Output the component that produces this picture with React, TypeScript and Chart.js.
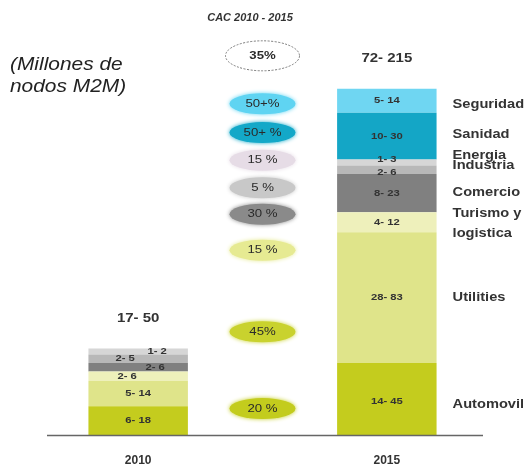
import React, { useEffect, useRef } from "react";
import { Chart, registerables } from "chart.js";

Chart.register(...registerables);

// ---------- data ----------
const years = ["2010", "", "2015"];
const segmentNames = [
  "Automovil",
  "Utilities",
  "Turismo y logistica",
  "Comercio",
  "Industria",
  "Energia",
  "Sanidad",
  "Seguridad",
];
// segment sizes (millones de nodos, approx. mid-range)
const automovil = [12, null, 30];
const utilities = [10.5, null, 54.5];
const turismo = [4, null, 8.3];
const comercio = [3.5, null, 16];
const industria = [3.5, null, 3.5];
const energia = [2.5, null, 2.5];
const sanidad = [null, null, 19.5];
const seguridad = [null, null, 10];

const ranges2010 = ["6- 18", "5- 14", "2- 6", "2- 6", "2- 5", "1- 2", "", ""];
const ranges2015 = ["14- 45", "28- 83", "4- 12", "8- 23", "2- 6", "1- 3", "10- 30", "5- 14"];
const totals = ["17- 50", "", "72- 215"];
const sideLabels = [
  ["Automovil"],
  ["Utilities"],
  ["Turismo y", "logistica"],
  ["Comercio"],
  ["Industria"],
  ["Energia"],
  ["Sanidad"],
  ["Seguridad"],
];
const cagrText = ["20 %", "45%", "15 %", "30 %", "5 %", "15 %", "50+ %", "50+%", "35%"];
const cagrLevel = [11, 43, 77, 92, 103, 114.5, 126, 138, 158];

// ---------- styles ----------
const segColors = [
  "#c4cc1e",
  "#dfe48a",
  "#eef0bb",
  "#808080",
  "#b8b8b8",
  "#d6d6d6",
  "#14a6c6",
  "#6fd6f2",
];
const cagrColors = [
  "#c3cc1d",
  "#c9d22e",
  "#e6ea92",
  "#8a8a8a",
  "#c8c8c8",
  "#e6dce6",
  "#13a8c8",
  "#5fd4f2",
  "#ffffff",
];
const FONT = "Arial, 'Liberation Sans', sans-serif";
const TXT = "#333333";

// label tweaks (pixel offsets)
const off2010x = [0, 0, -11, 17, -13, 19, 0, 0];
const off2015y = [3, 0, 0, 0, 2.5, -3, 0, 0];
const sideOffY = [6, 0, 0, 0, -4, -7, -1, 4];

function txt(
  ctx: CanvasRenderingContext2D,
  s: string,
  x: number,
  y: number,
  font: string,
  color: string,
  align: CanvasTextAlign = "center",
  sx = 1
) {
  ctx.save();
  ctx.font = font;
  ctx.fillStyle = color;
  ctx.textBaseline = "middle";
  ctx.textAlign = align;
  ctx.translate(x, y);
  ctx.scale(sx, 1);
  ctx.fillText(s, 0, 0);
  ctx.restore();
}

const annotPlugin = {
  id: "annot",
  afterDraw(chart: any) {
    const ctx: CanvasRenderingContext2D = chart.ctx;
    const xs = chart.scales.x;
    const ys = chart.scales.y;
    const area = chart.chartArea;

    // baseline
    ctx.save();
    ctx.strokeStyle = "#666";
    ctx.lineWidth = 1.5;
    ctx.beginPath();
    ctx.moveTo(area.left - 29, area.bottom + 0.5);
    ctx.lineTo(area.right + 34, area.bottom + 0.5);
    ctx.stroke();
    ctx.restore();

    // title + unit note
    txt(ctx, "CAC 2010 - 2015", 250, 18, `italic bold 11px ${FONT}`, TXT);
    txt(ctx, "(Millones de", 10, 65, `italic 19px ${FONT}`, "#222", "left", 1.1);
    txt(ctx, "nodos M2M)", 10, 87, `italic 19px ${FONT}`, "#222", "left", 1.1);

    const n = chart.data.datasets.length;
    // segment labels
    for (let d = 0; d < n; d++) {
      const meta = chart.getDatasetMeta(d);
      [0, 2].forEach((i) => {
        const v = chart.data.datasets[d].data[i];
        if (v == null) return;
        const el: any = meta.data[i];
        const cy = (el.y + el.base) / 2;
        if (i === 0) {
          const s = ranges2010[d];
          if (s) txt(ctx, s, el.x + off2010x[d], cy, `bold 9px ${FONT}`, TXT, "center", 1.25);
        } else {
          txt(ctx, ranges2015[d], el.x, cy + off2015y[d], `bold 9px ${FONT}`, TXT, "center", 1.25);
          const lines = sideLabels[d];
          const lx = el.x + el.width / 2 + 16;
          if (lines.length === 1) {
            txt(ctx, lines[0], lx, cy + sideOffY[d], `bold 12px ${FONT}`, TXT, "left", 1.22);
          } else {
            txt(ctx, lines[0], lx, cy - 9, `bold 12px ${FONT}`, TXT, "left", 1.22);
            txt(ctx, lines[1], lx, cy + 11, `bold 12px ${FONT}`, TXT, "left", 1.22);
          }
        }
      });
    }

    // totals above bars
    [0, 2].forEach((i) => {
      let top = Infinity;
      let x = 0;
      for (let d = 0; d < n; d++) {
        if (chart.data.datasets[d].data[i] == null) continue;
        const el: any = chart.getDatasetMeta(d).data[i];
        top = Math.min(top, el.y);
        x = el.x;
      }
      txt(ctx, totals[i], x, top - 30, `bold 12px ${FONT}`, TXT, "center", 1.25);
    });

    // CAC ellipses
    const cx = xs.getPixelForValue(1);
    cagrText.forEach((t, k) => {
      const cy = ys.getPixelForValue(cagrLevel[k]);
      const big = k === cagrText.length - 1;
      const rx = big ? 37 : 33;
      const ry = big ? 15 : 10.5;
      ctx.save();
      ctx.beginPath();
      ctx.ellipse(cx, cy, rx, ry, 0, 0, Math.PI * 2);
      if (big) {
        ctx.fillStyle = "#fff";
        ctx.fill();
        ctx.setLineDash([2, 1.5]);
        ctx.strokeStyle = "#777";
        ctx.lineWidth = 1;
        ctx.stroke();
      } else {
        ctx.shadowColor = cagrColors[k];
        ctx.shadowBlur = 4;
        ctx.fillStyle = cagrColors[k];
        ctx.fill();
      }
      ctx.restore();
      txt(ctx, t, cx, cy, `${big ? "bold " : ""}11px ${FONT}`, "#2a2a2a", "center", 1.2);
    });
  },
};

export default function App() {
  const ref = useRef<HTMLCanvasElement>(null);
  useEffect(() => {
    if (!ref.current) return;
    const series = [automovil, utilities, turismo, comercio, industria, energia, sanidad, seguridad];
    const chart = new Chart(ref.current, {
      type: "bar",
      data: {
        labels: years,
        datasets: series.map((data, d) => ({
          label: segmentNames[d],
          data: data as any,
          backgroundColor: segColors[d],
          borderWidth: 0,
          barPercentage: 0.8,
          categoryPercentage: 1,
        })),
      },
      options: {
        animation: false,
        responsive: false,
        layout: { padding: { left: 76, right: 81, top: 39, bottom: 0 } },
        plugins: {
          legend: { display: false },
          tooltip: { enabled: false },
          title: { display: false },
        },
        scales: {
          x: {
            stacked: true,
            grid: { display: false, drawTicks: false },
            border: { display: false },
            ticks: {
              font: { family: FONT, size: 12, weight: "bold" },
              color: TXT,
              padding: 18,
            },
            afterFit: (s: any) => {
              s.height = 31;
            },
          },
          y: { stacked: true, display: false, min: 0, max: 165 },
        },
      },
      plugins: [annotPlugin],
    });
    return () => chart.destroy();
  }, []);
  return (
    <div style={{ position: "absolute", left: 0, top: 0, width: 530, height: 466, background: "#fff" }}>
      <canvas ref={ref} width={530} height={466} />
    </div>
  );
}
